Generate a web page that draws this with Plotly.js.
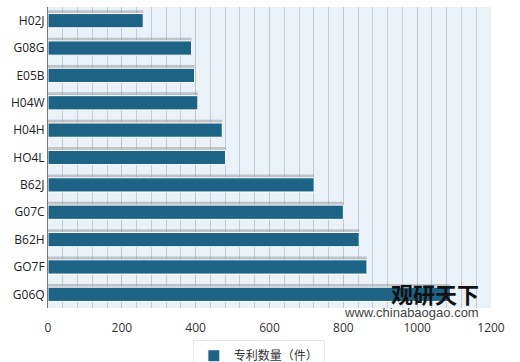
<!DOCTYPE html>
<html>
<head>
<meta charset="utf-8">
<script src="https://cdn.plot.ly/plotly-3.0.1.min.js"></script>
<style>html,body{margin:0;padding:0;background:#fff;}#chart{width:520px;height:362px;}</style>
</head>
<body>
<div id="chart"></div>
<script>
const categories = ["H02J","G08G","E05B","H04W","H04H","HO4L","B62J","G07C","B62H","GO7F","G06Q"];
const patentCounts = [258, 389, 397, 406, 472, 481, 721, 800, 843, 864, 1090];
const seriesName = "专利数量（件）";
const xTicks = [0, 200, 400, 600, 800, 1000, 1200];

const shadow = {
  type: "bar", orientation: "h",
  y: categories, x: patentCounts,
  marker: {color: "rgba(140,140,140,0.45)"},
  width: 0.5, offset: -0.38,
  showlegend: false, hoverinfo: "skip"
};
const bars = {
  type: "bar", orientation: "h",
  y: categories, x: patentCounts,
  name: seriesName,
  marker: {color: "#1c6386", line: {color: "#ffffff", width: 1}},
  width: 0.52, offset: -0.26
};

const layout = {
  width: 520, height: 362,
  margin: {l: 48, r: 29, t: 7, b: 54, autoexpand: false},
  paper_bgcolor: "#ffffff",
  plot_bgcolor: "#eaf1f7",
  barmode: "overlay",
  font: {family: "'Open Sans', 'Noto Sans CJK SC', sans-serif", color: "#333", size: 12},
  xaxis: {
    range: [0, 1200], tickvals: xTicks, ticktext: xTicks.map(String),
    showgrid: true, gridcolor: "#bfc5cb", gridwidth: 1,
    minor: {dtick: 40, showgrid: true, gridcolor: "#c5cbd1", gridwidth: 1},
    zeroline: false, showline: false, ticks: "",
    ticklabelstandoff: 11,
    tickfont: {size: 12, color: "#333"}
  },
  yaxis: {
    type: "category", autorange: "reversed",
    showline: true, linecolor: "#777", linewidth: 1,
    ticks: "", ticklen: 0, tickfont: {size: 12, color: "#222"},
    showgrid: false
  },
  legend: {
    orientation: "h", xref: "paper", x: 0.327, xanchor: "left",
    yref: "container", y: 0.06, yanchor: "top",
    bgcolor: "#ffffff", bordercolor: "#e6e6e6", borderwidth: 1,
    itemwidth: 30, tracegroupgap: 0,
    font: {size: 12, family: "'Noto Sans CJK SC', sans-serif", color: "#333"}
  },
  annotations: [
    {xref: "paper", yref: "paper", x: 0.874, y: 0.05, xanchor: "center", yanchor: "middle",
     text: "<b>观研天下</b>", showarrow: false,
     font: {size: 22, color: "#111", family: "'Noto Sans CJK SC', sans-serif"}},
    {xref: "paper", yref: "paper", x: 0.82, y: -0.015, xanchor: "center", yanchor: "middle",
     text: "www.chinabaogao.com", showarrow: false,
     font: {size: 13, color: "#444", family: "Arial, 'Liberation Sans', sans-serif"}}
  ]
};

Plotly.newPlot("chart", [shadow, bars], layout, {displayModeBar: false, staticPlot: true});
</script>
</body>
</html>
